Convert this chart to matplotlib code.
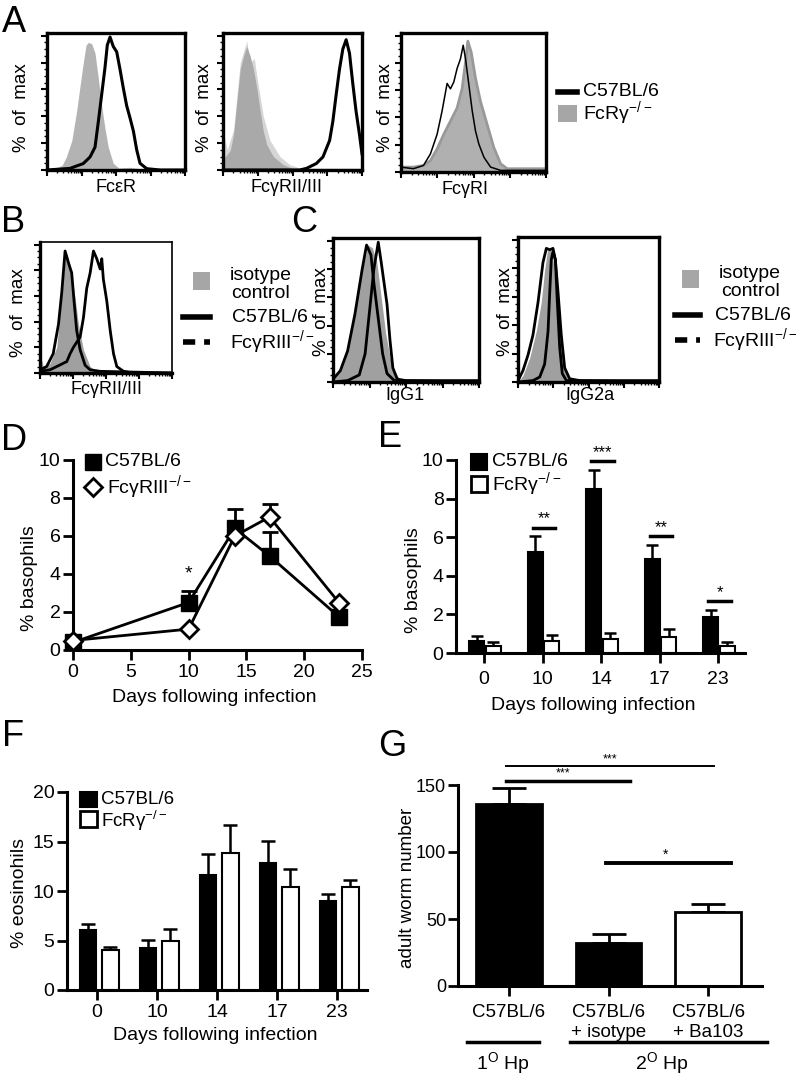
import matplotlib
matplotlib.use('Agg')
import matplotlib.pyplot as plt
import numpy as np
from matplotlib.lines import Line2D
from matplotlib.patches import Rectangle

plt.rcParams['font.family'] = ['Liberation Sans', 'DejaVu Sans']
plt.rcParams['mathtext.fontset'] = 'custom'
plt.rcParams['mathtext.rm'] = 'Liberation Sans'
plt.rcParams['mathtext.default'] = 'regular'

# ---- histogram traces (x = % of axis width, y = % of max) ----
a1_ko_x = [0, 6, 11, 14, 18, 21.5, 24, 26.3, 28.3, 30, 32.4, 34.8, 37.2, 39.6, 42, 44.4, 48, 52, 60, 67, 75, 100]
a1_ko_y = [0, 1, 3.6, 9.7, 22, 44, 63, 80, 93, 95, 94, 87, 68, 48, 31, 17, 5, 1.5, 2, 1, 0, 0]
a1_wt_x = [0, 16.7, 26.3, 31.2, 34.8, 37.2, 39.6, 42, 43.7, 45.7, 48, 50.5, 52.9, 55.3, 57.7, 60.1, 62.6, 65, 67.4, 72.2, 82, 100]
a1_wt_y = [0, 1.2, 4.8, 9.7, 17, 36, 56, 76, 93, 99, 92, 88, 75, 61, 48, 39, 29, 15, 5, 1, 0, 0]

a2_ko_x = [0, 5.2, 7.6, 10, 12.4, 14.8, 17.1, 19.5, 21.9, 24.3, 26.7, 29, 31.4, 36.2, 43.3, 50.5, 55, 100]
a2_ko_y = [8, 14.5, 26.6, 51, 75, 85, 92, 85, 75, 61, 44, 29, 19, 10, 4, 1, 0, 0]
a2_ko2_x = [0, 1, 3, 7.6, 12.4, 17.1, 19.5, 22.5, 24.3, 29, 33.8, 41, 48, 55, 100]
a2_ko2_y = [38, 25, 15, 30, 80, 96, 80, 83, 70, 40, 22, 10, 4, 1.5, 1.5]
a2_wt_x = [0, 55.2, 60, 67.1, 71.9, 76.7, 79, 81.4, 83.8, 86.2, 88.6, 91, 93.3, 95.7, 98.1, 100]
a2_wt_y = [0, 0, 1.2, 4.8, 9.7, 22, 36, 56, 75, 90, 97, 87, 65, 44, 27, 12]

a3_wt_x = [0, 8.5, 15.5, 20.3, 24.9, 28.3, 31.8, 34.1, 36.4, 38.7, 41, 42.9, 44.5, 46.8, 49.1, 51.4, 53.7, 57.2, 61.8, 68.7, 100]
a3_wt_y = [3.6, 2.4, 4.8, 13.3, 27.7, 44.6, 65, 61, 66, 76, 83, 93, 83, 64, 45, 30, 20.5, 10.8, 3.6, 1.2, 1.2]
a3_ko_x = [0, 8.5, 15.5, 20.3, 24.9, 29.5, 34.1, 38.7, 42.2, 44.5, 46.1, 48.4, 51.4, 54.8, 59.4, 64, 68.7, 73.3, 100]
a3_ko_y = [3.6, 3.6, 4.8, 8.4, 16.9, 27.7, 37.3, 47, 61.4, 80.7, 96, 88, 68.7, 51.8, 34.9, 18, 6, 2.4, 2.4]

b_iso_x = [0, 2.5, 7.6, 12.7, 15.2, 17.7, 19.5, 21.5, 24, 26.6, 29.1, 32.9, 38, 43, 48, 100]
b_iso_y = [15, 5, 7.6, 20, 48, 76, 95, 89, 76, 58, 38, 18, 5, 1.3, 0, 0]
b_ko_x = [0, 5, 10, 14, 16.5, 19, 21.5, 24, 25.8, 27.8, 30.4, 34.2, 38, 45.6, 100]
b_ko_y = [2.5, 5, 15, 38, 63, 95, 86, 78, 56, 33, 18, 6, 2.5, 1.3, 0]
b_wt_x = [0, 7.6, 15.2, 20.3, 22.8, 25.3, 30.4, 32.9, 35.4, 38, 40.5, 43, 45.6, 46.8, 48, 50.6, 53.2, 55.7, 58.2, 63.3, 70, 100]
b_wt_y = [1.3, 2.5, 6.3, 8.9, 15, 20, 28, 43, 66, 78, 95, 89, 81, 89, 73, 56, 33, 15, 5, 1.3, 0, 0]

c1_iso_x = [0, 5, 10, 15, 20, 24, 27, 30, 33, 36, 40, 45, 50, 100]
c1_iso_y = [3, 10, 25, 50, 80, 97, 95, 85, 60, 35, 12, 3, 1, 1]
c1_ko_x = [0, 5, 10, 15, 20, 23, 26, 28, 31, 34, 37, 42, 100]
c1_ko_y = [2, 8, 22, 48, 80, 97, 90, 70, 45, 20, 6, 1, 0]
c1_wt_x = [0, 10, 18, 22, 25, 28, 31, 33, 35, 37, 39, 41, 44, 50, 100]
c1_wt_y = [0, 1, 5, 20, 50, 80, 99, 85, 70, 55, 30, 10, 2, 1, 1]

c2_iso_x = [0, 3.5, 8.3, 13, 16.5, 18.9, 20.8, 22.5, 24.8, 27.2, 29.6, 32, 35.5, 43.3, 100]
c2_iso_y = [0, 4.6, 17, 36, 56, 79, 92, 94, 86, 63, 33, 13, 2.3, 1.1, 1.1]
c2_ko_x = [0, 3.5, 7.1, 10.6, 14.2, 17.7, 20.1, 22.5, 24.8, 26.5, 28.4, 30.7, 33.1, 36.6, 43.7, 100]
c2_ko_y = [1, 8, 19, 33, 56, 84, 94, 93, 94, 86, 63, 33, 10, 2.3, 1, 1]
c2_wt_x = [0, 10.6, 15.4, 18.9, 21.3, 22.5, 23.6, 24.8, 26.5, 27.9, 29.6, 31.4, 34.3, 100]
c2_wt_y = [0, 1, 3.5, 12.6, 35.6, 63, 86, 92, 86, 56, 24, 6, 1, 0]

# ---- D: basophils time course ----
d_days = [0, 10, 14, 17, 23]
d_wt = [0.4, 2.5, 6.4, 4.95, 1.75]
d_wt_err = [0, 0.6, 1.0, 1.25, 0]
d_ko = [0.5, 1.1, 6.0, 7.0, 2.5]
d_ko_err = [0, 0, 0, 0.7, 0]

# ---- E: basophils bars ----
e_days = ['0', '10', '14', '17', '23']
e_wt = [0.6, 5.25, 8.5, 4.85, 1.85]
e_wt_err = [0.3, 0.8, 1.0, 0.75, 0.4]
e_ko = [0.35, 0.6, 0.75, 0.85, 0.35]
e_ko_err = [0.2, 0.35, 0.3, 0.4, 0.2]
e_sig = ['', '**', '***', '**', '*']

# ---- F: eosinophils bars ----
f_days = ['0', '10', '14', '17', '23']
f_wt = [6.1, 4.2, 11.6, 12.8, 9.0]
f_wt_err = [0.6, 0.9, 2.1, 2.3, 0.7]
f_ko = [4.0, 5.0, 13.8, 10.4, 10.4]
f_ko_err = [0.35, 1.2, 2.9, 1.8, 0.7]

# ---- G: worm counts ----
g_groups = ['C57BL/6', 'C57BL/6\n+ isotype', 'C57BL/6\n+ Ba103']
g_worms = [136, 32, 55]
g_err = [12, 6.5, 6.5]
g_colors = ['black', 'black', 'white']

W, H = 796, 1075
fig = plt.figure(figsize=(W / 100, H / 100), dpi=100)


def box(l, t, r, b):
    return fig.add_axes([l / W, 1 - b / H, (r - l) / W, (b - t) / H])


def txt(x, y, s, **kw):
    kw.setdefault('va', 'center')
    fig.text(x / W, 1 - y / H, s, **kw)


def fline(x1, x2, y, **kw):
    fig.add_artist(Line2D([x1 / W, x2 / W], [1 - y / H, 1 - y / H], transform=fig.transFigure, **kw))


def fsquare(l, t, r, b, **kw):
    fig.add_artist(Rectangle((l / W, 1 - b / H), (r - l) / W, (b - t) / H, transform=fig.transFigure, **kw))


def hist_axes(ax, thin_tr=False):
    ax.set_xlim(0, 100)
    ax.set_ylim(0, 102)
    ax.set_xticks([0, 25, 50, 75, 100])
    ax.set_xticks([d + 25 * np.log10(k) for d in (0, 25, 50, 75) for k in range(2, 10)], minor=True)
    ax.set_yticks([0, 20, 40, 60, 80, 100])
    ax.set_yticks(range(0, 101, 5), minor=True)
    ax.set_xticklabels([])
    ax.set_yticklabels([])
    ax.tick_params(direction='out', length=4, width=1.5)
    ax.tick_params(which='minor', direction='out', length=2, width=1)
    for s in ax.spines.values():
        s.set_linewidth(2.4)
    if thin_tr:
        ax.spines['top'].set_linewidth(1.2)
        ax.spines['right'].set_linewidth(1.2)


# ================= A =================
ax = box(47, 33, 185, 170)
ax.fill_between(a1_ko_x, a1_ko_y, color='#b3b3b3', lw=0)
ax.plot(a1_wt_x, a1_wt_y, color='black', lw=2.2)
hist_axes(ax)

ax = box(223, 33, 362, 170)
ax.fill_between(a2_ko2_x, a2_ko2_y, color='#d6d6d6', lw=0)
ax.fill_between(a2_ko_x, a2_ko_y, color='#a9a9a9', lw=0)
ax.plot(a2_wt_x, a2_wt_y, color='black', lw=2.2)
hist_axes(ax)

ax = box(401, 33, 546, 172)
ax.fill_between(a3_ko_x, a3_ko_y, color='#b0b0b0', lw=0)
ax.plot(a3_ko_x, a3_ko_y, color='#999999', lw=2)
ax.plot(a3_wt_x, a3_wt_y, color='black', lw=1.1)
hist_axes(ax)

for x, lab in [(22, 108), (205, 108), (386, 108)]:
    txt(x, lab, '%  of  max', rotation=90, ha='center', fontsize=13.5)
txt(116, 188, 'FcεR', ha='center', fontsize=13)
txt(287, 188, 'FcγRII/III', ha='center', fontsize=13)
txt(465, 190, 'FcγRI', ha='center', fontsize=13)

fline(558, 577, 92, color='black', lw=4)
txt(583, 92, 'C57BL/6', ha='left', fontsize=14)
fsquare(558, 105, 577, 122, color='#a6a6a6', lw=0)
txt(583, 113, 'FcRγ$^{-/-}$', ha='left', fontsize=14)

# ================= B =================
ax = box(40, 242, 172, 373)
ax.fill_between(b_iso_x, b_iso_y, color='#a0a0a0', lw=0)
ax.plot(b_ko_x, b_ko_y, color='black', lw=2)
ax.plot(b_wt_x, b_wt_y, color='black', lw=2)
hist_axes(ax, thin_tr=True)
txt(19, 313, '%  of  max', rotation=90, ha='center', fontsize=13.5)
txt(106, 389, 'FcγRII/III', ha='center', fontsize=13)

fsquare(193, 272, 210, 290, color='#a6a6a6', lw=0)
txt(261, 276, 'isotype', ha='center', fontsize=14)
txt(261, 294, 'control', ha='center', fontsize=14)
fline(183, 210, 317, color='black', lw=4)
txt(232, 317, 'C57BL/6', ha='left', fontsize=14)
fline(183, 210, 342, color='black', lw=4, dashes=(2.2, 1.6))
txt(230, 342, 'FcγRIII$^{-/-}$', ha='left', fontsize=14)

# ================= C =================
ax = box(333, 238, 479, 382)
ax.fill_between(c1_iso_x, c1_iso_y, color='#a0a0a0', lw=0)
ax.plot(c1_ko_x, c1_ko_y, color='black', lw=2)
ax.plot(c1_wt_x, c1_wt_y, color='black', lw=2)
hist_axes(ax)

ax = box(518, 237, 659, 382)
ax.fill_between(c2_iso_x, c2_iso_y, color='#a0a0a0', lw=0)
ax.plot(c2_ko_x, c2_ko_y, color='black', lw=2)
ax.plot(c2_wt_x, c2_wt_y, color='black', lw=2)
hist_axes(ax)

txt(321, 312, '%  of  max', rotation=90, ha='center', fontsize=13.5)
txt(506, 312, '%  of  max', rotation=90, ha='center', fontsize=13.5)
txt(405, 396, 'IgG1', ha='center', fontsize=13)
txt(590, 396, 'IgG2a', ha='center', fontsize=13)

fsquare(682, 270, 699, 288, color='#a6a6a6', lw=0)
txt(750, 274, 'isotype', ha='center', fontsize=14)
txt(750, 291, 'control', ha='center', fontsize=14)
fline(675, 700, 315, color='black', lw=4)
txt(715, 315, 'C57BL/6', ha='left', fontsize=14)
fline(675, 700, 340, color='black', lw=4, dashes=(2.2, 1.6))
txt(713, 340, 'FcγRIII$^{-/-}$', ha='left', fontsize=14)


def bar_style(ax):
    for s in ('top', 'right'):
        ax.spines[s].set_visible(False)
    for s in ('left', 'bottom'):
        ax.spines[s].set_linewidth(2.2)
    ax.tick_params(direction='out', length=7, width=2, labelsize=14)
    ax.tick_params(axis='y', pad=2)


# ================= D =================
ax = box(73, 460, 362, 650)
ax.errorbar(d_days, d_wt, yerr=[[0] * 5, d_wt_err], color='black', lw=2, capsize=6, capthick=2,
            marker='s', ms=11, mfc='black', mec='black', clip_on=False, zorder=3)
ax.errorbar(d_days, d_ko, yerr=[[0] * 5, d_ko_err], color='black', lw=2, capsize=6, capthick=2,
            marker='D', ms=9, mfc='white', mec='black', mew=2, clip_on=False, zorder=4)
ax.set_xlim(0, 25)
ax.set_ylim(0, 10)
ax.set_xticks([0, 5, 10, 15, 20, 25])
ax.set_yticks([0, 2, 4, 6, 8, 10])
bar_style(ax)
ax.tick_params(axis='x', pad=3)
ax.text(d_days[1], d_wt[1] + d_wt_err[1] + 0.45, '*', ha='center', va='bottom', fontsize=14)
txt(30, 578, '% basophils', rotation=90, ha='center', fontsize=14)
txt(214, 698, 'Days following infection', ha='center', fontsize=14)

ax.plot([1.73], [9.9], marker='s', ms=11, color='black', clip_on=False)
ax.plot([1.73], [8.6], marker='D', ms=9, mfc='white', mec='black', mew=2, clip_on=False)
txt(105, 462, 'C57BL/6', ha='left', fontsize=14)
txt(107, 487, 'FcγRIII$^{-/-}$', ha='left', fontsize=14)

# ================= E =================
ax = box(456, 460, 745, 653)
xe = np.arange(len(e_days))
bw = 0.256
ax.bar(xe - bw / 2, e_wt, bw, color='black', edgecolor='black', lw=1.5, zorder=2)
ax.bar(xe + 0.03 + bw / 2, e_ko, bw, color='white', edgecolor='black', lw=1.5, zorder=2)
ax.errorbar(xe - bw / 2, e_wt, yerr=[[0] * 5, e_wt_err], fmt='none', ecolor='black', elinewidth=1.8,
            capsize=4.5, capthick=1.8, zorder=1)
ax.errorbar(xe + 0.03 + bw / 2, e_ko, yerr=[[0] * 5, e_ko_err], fmt='none', ecolor='black', elinewidth=1.8,
            capsize=4.5, capthick=1.8, zorder=1)
for i, s in enumerate(e_sig):
    if s:
        yy = e_wt[i] + e_wt_err[i] + 0.45
        ax.plot([i - 0.17, i + 0.22], [yy, yy], color='black', lw=2.5, clip_on=False)
        ax.text(i + 0.03, yy + 0.05, s, ha='center', va='bottom', fontsize=12)
ax.set_xlim(-0.48, 4.46)
ax.set_ylim(0, 10)
ax.set_xticks(xe)
ax.set_xticklabels(e_days)
ax.set_yticks([0, 2, 4, 6, 8, 10])
bar_style(ax)
ax.tick_params(axis='x', pad=6)
txt(414, 580, '% basophils', rotation=90, ha='center', fontsize=14)
txt(593, 705, 'Days following infection', ha='center', fontsize=14)

fsquare(471, 454, 487, 470, facecolor='black', edgecolor='black', lw=1.5)
txt(492, 462, 'C57BL/6', ha='left', fontsize=14)
fsquare(471, 476, 487, 492, facecolor='white', edgecolor='black', lw=2)
txt(492, 484, 'FcRγ$^{-/-}$', ha='left', fontsize=14)

# ================= F =================
ax = box(67, 792, 367, 990)
xf = np.arange(len(f_days))
fw = 0.28
ax.bar(xf - 0.15, f_wt, fw, color='black', edgecolor='black', lw=1.5, zorder=2)
ax.bar(xf + 0.22, f_ko, fw, color='white', edgecolor='black', lw=1.5, zorder=2)
ax.errorbar(xf - 0.15, f_wt, yerr=[[0] * 5, f_wt_err], fmt='none', ecolor='black', elinewidth=1.8,
            capsize=5, capthick=1.8, zorder=1)
ax.errorbar(xf + 0.22, f_ko, yerr=[[0] * 5, f_ko_err], fmt='none', ecolor='black', elinewidth=1.8,
            capsize=5, capthick=1.8, zorder=1)
ax.set_xlim(-0.5, 4.5)
ax.set_ylim(0, 20)
ax.set_xticks(xf)
ax.set_xticklabels(f_days)
ax.set_yticks([0, 5, 10, 15, 20])
bar_style(ax)
ax.tick_params(axis='x', pad=3)
txt(20, 893, '% eosinohils', rotation=90, ha='center', fontsize=14)
txt(215, 1035, 'Days following infection', ha='center', fontsize=14)

fsquare(80, 792, 97, 807, facecolor='black', edgecolor='black', lw=1.5)
txt(101, 799, 'C57BL/6', ha='left', fontsize=13.5)
fsquare(80, 811, 97, 827, facecolor='white', edgecolor='black', lw=2)
txt(101, 821, 'FcRγ$^{-/-}$', ha='left', fontsize=13.5)

# ================= G =================
ax = box(458, 785, 762, 986)
xg = np.arange(len(g_groups))
ax.bar(xg, g_worms, 0.66, color=g_colors, edgecolor='black', lw=2, zorder=2)
ax.errorbar(xg, g_worms, yerr=[[0] * 3, g_err], fmt='none', ecolor='black', elinewidth=2,
            capsize=12, capthick=2, zorder=1, clip_on=False)
ax.set_xlim(-0.51, 2.54)
ax.set_ylim(0, 150)
ax.set_xticks(xg)
ax.set_xticklabels(g_groups, linespacing=1.25)
ax.set_yticks([0, 50, 100, 150])
bar_style(ax)
ax.tick_params(axis='x', pad=6, labelsize=13.5)
ax.tick_params(axis='y', labelsize=13, pad=1.5)
ax.plot([-0.03, 2.06], [164, 164], color='black', lw=1.4, clip_on=False)
ax.text(1.02, 164.5, '***', ha='center', va='bottom', fontsize=9)
ax.plot([-0.03, 1.22], [153, 153], color='black', lw=2.5, clip_on=False)
ax.text(0.54, 154, '***', ha='center', va='bottom', fontsize=9)
ax.plot([0.97, 2.23], [92, 92], color='black', lw=2.8, clip_on=False)
ax.text(1.57, 93, '*', ha='center', va='bottom', fontsize=10)
txt(407, 888, 'adult worm number', rotation=90, ha='center', fontsize=13.5)

fline(467, 539, 1042, color='black', lw=2.5)
fline(570, 767, 1042, color='black', lw=2.5)
txt(503, 1063, '1$^{\\mathrm{O}}$ Hp', ha='center', fontsize=14)
txt(662, 1063, '2$^{\\mathrm{O}}$ Hp', ha='center', fontsize=14)

# ---- panel letters ----
for x, y, s in [(14, 22, 'A'), (13, 223, 'B'), (304, 223, 'C'), (14, 440, 'D'),
                (390, 438, 'E'), (13, 737, 'F'), (392, 747, 'G')]:
    txt(x, y, s, ha='center', fontsize=26)

fig.savefig('out.png', dpi=100)
